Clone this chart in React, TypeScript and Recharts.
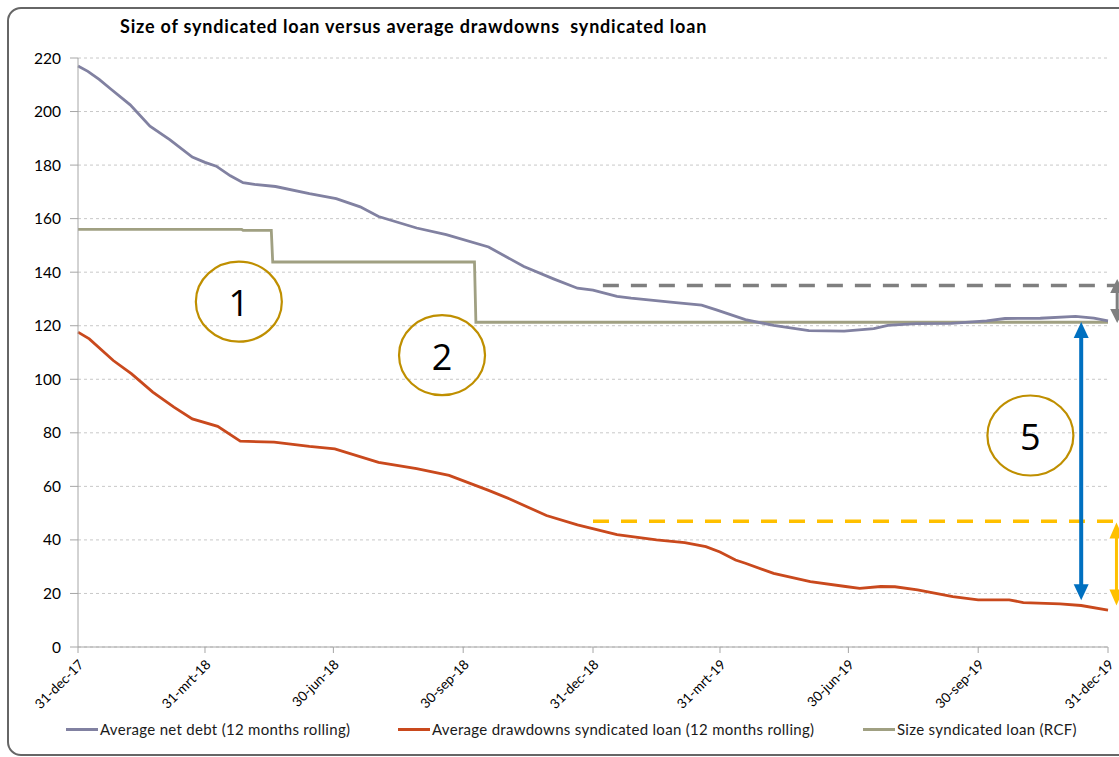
import React from "react";
import {
  LineChart,
  Line,
  XAxis,
  YAxis,
  CartesianGrid,
  ReferenceLine,
  ReferenceDot,
} from "recharts";

// x values are days after 31-dec-17
const tickDays = [0, 90, 181, 273, 365, 455, 546, 638, 730];
const tickLabels = [
  "31-dec-17",
  "31-mrt-18",
  "30-jun-18",
  "30-sep-18",
  "31-dec-18",
  "31-mrt-19",
  "30-jun-19",
  "30-sep-19",
  "31-dec-19",
];
const yTicks = [0, 20, 40, 60, 80, 100, 120, 140, 160, 180, 200, 220];

const netDebtDays = [
  0, 7, 15, 23, 37, 51, 65, 81, 90, 98, 108, 117, 125, 140, 164, 183, 200, 213,
  240, 261, 291, 316, 337, 354, 365, 382, 392, 420, 442, 453, 473, 493, 518, 543,
  564, 574, 594, 619, 644, 657, 682, 707, 720, 730,
];
const netDebtValues = [
  217, 215, 212, 208.5, 202.5, 194.5, 189.5, 183, 181, 179.6, 176, 173.4, 172.8,
  172, 169.3, 167.5, 164.4, 160.8, 156.5, 154, 149.4, 142.1, 137.5, 134, 133.3,
  131, 130.3, 128.8, 127.7, 125.8, 122.3, 120.1, 118.2, 118, 118.9, 120.1, 120.8,
  120.9, 121.8, 122.7, 122.8, 123.5, 122.8, 121.8,
];

const drawdownDays = [
  0, 8, 25, 38, 53, 68, 81, 99, 115, 139, 164, 182, 213, 240, 263, 291, 306, 332,
  354, 382, 410, 430, 445, 455, 466, 473, 493, 519, 544, 554, 569, 579, 595, 620,
  638, 660, 670, 696, 711, 730,
];
const drawdownValues = [
  117.6, 115.1, 107, 102, 95.2, 89.6, 85.2, 82.4, 76.9, 76.5, 74.9, 74, 69, 66.6,
  64.1, 58.5, 55.3, 49.1, 45.6, 42, 40, 39, 37.5, 35.5, 32.5, 31.3, 27.5, 24.4,
  22.6, 21.9, 22.6, 22.5, 21.3, 18.8, 17.6, 17.6, 16.6, 16.1, 15.5, 13.8,
];

const rcfDays = [0, 116, 117, 137, 138, 281, 282, 730];
const rcfValues = [156, 156, 155.6, 155.6, 143.8, 143.8, 121.3, 121.3];

const circleLabels = ["1", "2", "5"];
const circleDays = [114, 258, 675];
const circleValues = [129, 109, 79];

const seriesNames = [
  "Average net debt (12 months rolling)",
  "Average drawdowns syndicated loan (12 months rolling)",
  "Size syndicated loan (RCF)",
];
const seriesColors = ["#8181A1", "#C9491D", "#A0A082"];

const toPoints = (days: number[], values: number[]) =>
  days.map((d, i) => ({ day: d, value: values[i] }));

const netDebt = toPoints(netDebtDays, netDebtValues);
const drawdowns = toPoints(drawdownDays, drawdownValues);
const rcf = toPoints(rcfDays, rcfValues);

const FONT = "Lato, 'Open Sans', sans-serif";

function XTick(props: any) {
  const { x, y, payload } = props;
  const i = tickDays.indexOf(payload.value);
  const tx = x + 3;
  const ty = y + 7;
  return (
    <text
      x={tx}
      y={ty}
      textAnchor="end"
      dominantBaseline="central"
      fontSize={13.5}
      fontFamily={FONT}
      fill="#000"
      transform={`rotate(-45, ${tx}, ${ty})`}
    >
      {tickLabels[i]}
    </text>
  );
}

function Ellipse(props: any) {
  const { cx, cy, label } = props;
  return (
    <g>
      <ellipse cx={cx} cy={cy} rx={43} ry={40} fill="none" stroke="#BF8F00" strokeWidth={2.2} />
      <text
        x={cx}
        y={cy + 1}
        textAnchor="middle"
        dominantBaseline="central"
        fontSize={36}
        fontFamily="'Open Sans', sans-serif"
        fill="#000"
      >
        {label}
      </text>
    </g>
  );
}

function makeArrow(color: string, width: number, head: number, headLen: number) {
  return (p: any) => {
    const { x1, y1, x2, y2 } = p;
    const top = Math.min(y1, y2);
    const bottom = Math.max(y1, y2);
    const x = x1;
    return (
      <g>
        <line x1={x} y1={top + headLen - 2} x2={x} y2={bottom - headLen + 2} stroke={color} strokeWidth={width} />
        <polygon points={`${x},${top} ${x - head / 2},${top + headLen} ${x + head / 2},${top + headLen}`} fill={color} />
        <polygon points={`${x},${bottom} ${x - head / 2},${bottom - headLen} ${x + head / 2},${bottom - headLen}`} fill={color} />
      </g>
    );
  };
}

export default function App() {
  return (
    <div
      style={{
        position: "absolute",
        left: 0,
        top: 0,
        width: 1119,
        height: 757,
        overflow: "hidden",
        background: "#fff",
        fontFamily: FONT,
      }}
    >
      <div
        style={{
          position: "absolute",
          left: 7,
          top: 7,
          width: 1150,
          height: 745,
          border: "2.5px solid #666",
          borderRadius: 14,
        }}
      />
      <div
        style={{
          position: "absolute",
          left: 120,
          top: 15,
          fontSize: 18,
          letterSpacing: 0.8,
          fontWeight: 700,
          color: "#000",
          whiteSpace: "pre",
        }}
      >
        {"Size of syndicated loan versus average drawdowns  syndicated loan"}
      </div>
      <div style={{ position: "absolute", left: 0, top: 0 }}>
        <LineChart
          width={1119}
          height={757}
          margin={{ top: 58, right: 11, bottom: 50, left: 38 }}
        >
          <CartesianGrid
            vertical={false}
            stroke="#C8C8C8"
            strokeDasharray="3 3"
          />
          <XAxis
            dataKey="day"
            type="number"
            domain={[0, 730]}
            ticks={tickDays}
            interval={0}
            height={60}
            tick={<XTick />}
            tickSize={6}
            stroke="#A6A6A6"
            allowDuplicatedCategory={false}
          />
          <YAxis
            type="number"
            domain={[0, 220]}
            ticks={yTicks}
            interval={0}
            width={40}
            tickSize={8}
            tickMargin={9}
            stroke="#A6A6A6"
            tick={{ fill: "#000", fontSize: 15.5, fontFamily: FONT }}
          />
          <Line
            data={rcf}
            dataKey="value"
            type="linear"
            stroke={seriesColors[2]}
            strokeWidth={2.8}
            dot={false}
            isAnimationActive={false}
          />
          <Line
            data={netDebt}
            dataKey="value"
            type="linear"
            stroke={seriesColors[0]}
            strokeWidth={2.8}
            dot={false}
            isAnimationActive={false}
          />
          <Line
            data={drawdowns}
            dataKey="value"
            type="linear"
            stroke={seriesColors[1]}
            strokeWidth={2.8}
            dot={false}
            isAnimationActive={false}
          />
          <ReferenceLine
            segment={[
              { x: 372, y: 135 },
              { x: 760, y: 135 },
            ]}
            stroke="#7F7F7F"
            strokeWidth={3.5}
            strokeDasharray="16 12"
            ifOverflow="visible"
          />
          <ReferenceLine
            segment={[
              { x: 365, y: 47 },
              { x: 760, y: 47 },
            ]}
            stroke="#FFC000"
            strokeWidth={3.5}
            strokeDasharray="16 12"
            ifOverflow="visible"
          />
          <ReferenceLine
            segment={[
              { x: 711, y: 121.4 },
              { x: 711, y: 17.5 },
            ]}
            ifOverflow="visible"
            shape={makeArrow("#0070C0", 4, 15, 16)}
          />
          <ReferenceLine
            segment={[
              { x: 736.5, y: 137.5 },
              { x: 736.5, y: 121 },
            ]}
            ifOverflow="visible"
            shape={makeArrow("#7F7F7F", 3, 14, 14)}
          />
          <ReferenceLine
            segment={[
              { x: 736, y: 46.5 },
              { x: 736, y: 15.5 },
            ]}
            ifOverflow="visible"
            shape={makeArrow("#FFC000", 3, 14, 16)}
          />
          {circleLabels.map((lab, i) => (
            <ReferenceDot
              key={lab}
              x={circleDays[i]}
              y={circleValues[i]}
              r={40}
              ifOverflow="visible"
              shape={(p: any) => <Ellipse {...p} label={lab} />}
            />
          ))}
        </LineChart>
      </div>
      <div
        style={{
          position: "absolute",
          top: 720,
          left: 0,
          width: 1119,
          height: 22,
          fontSize: 15,
          letterSpacing: 0.3,
          color: "#1a1a1a",
        }}
      >
        {seriesNames.map((name, i) => (
          <div
            key={name}
            style={{
              position: "absolute",
              left: [66, 398, 863][i],
              top: 0,
              display: "flex",
              alignItems: "center",
              whiteSpace: "nowrap",
            }}
          >
            <span
              style={{
                display: "inline-block",
                width: 32,
                height: 3,
                background: seriesColors[i],
                marginRight: 2,
              }}
            />
            <span>{name}</span>
          </div>
        ))}
      </div>
    </div>
  );
}
